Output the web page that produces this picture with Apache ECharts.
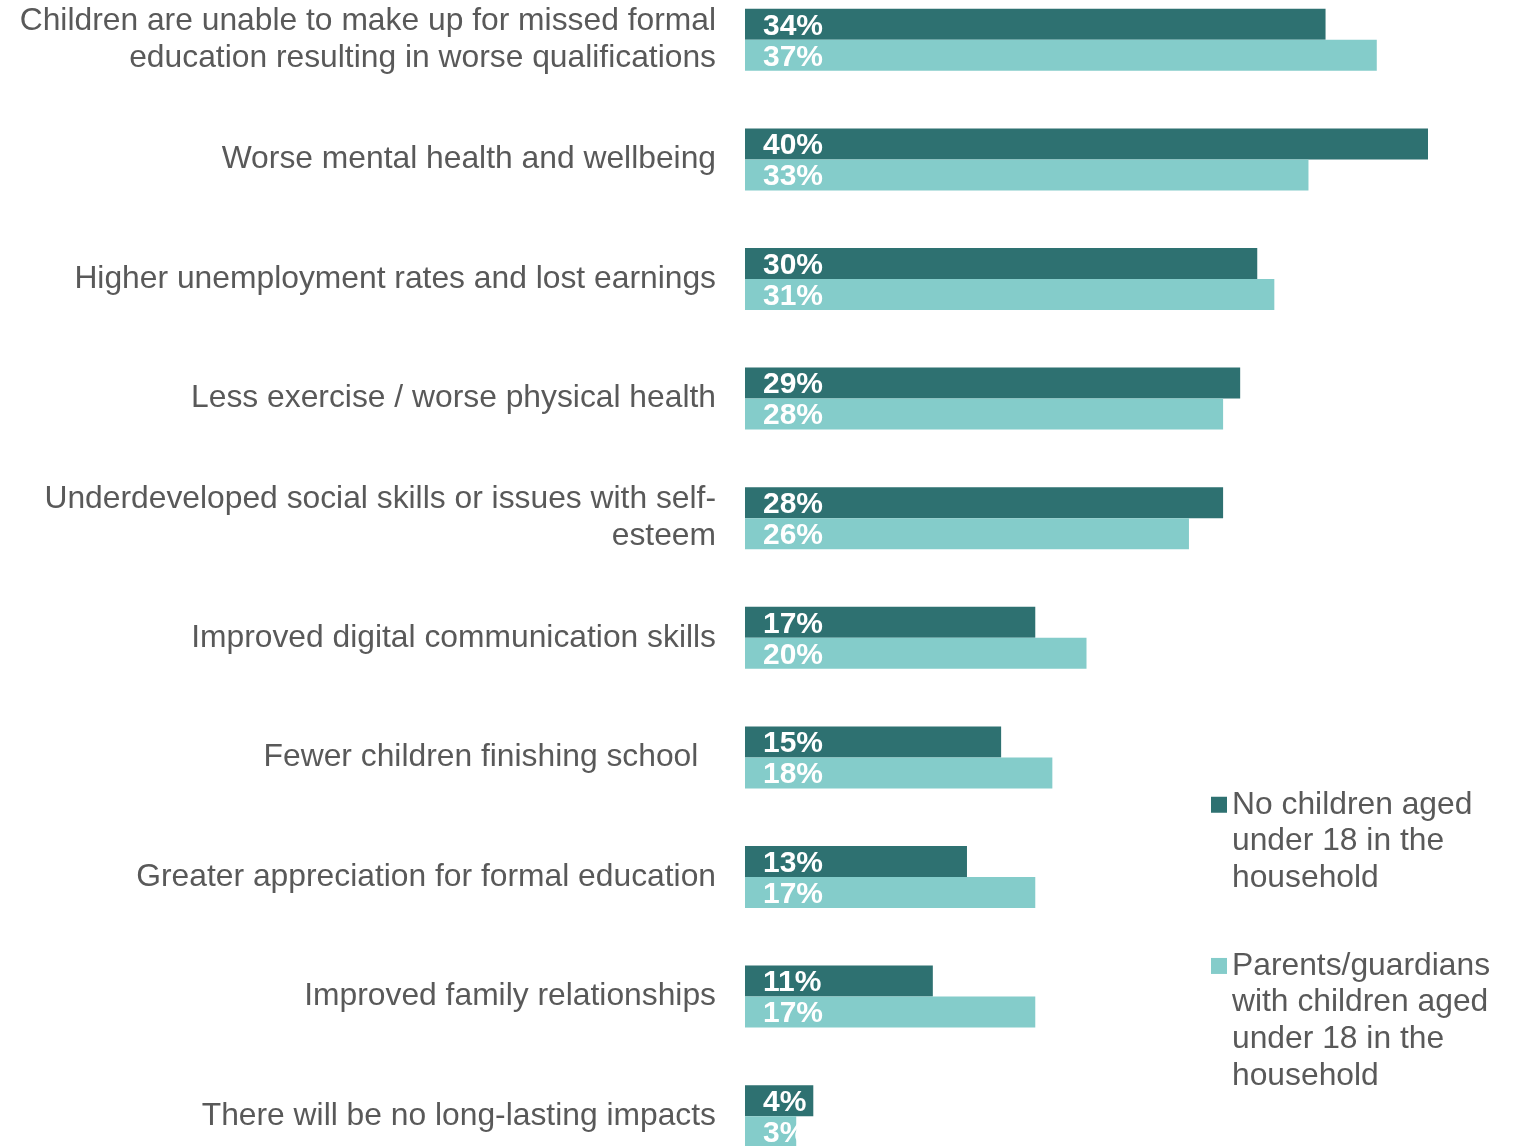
<!DOCTYPE html>
<html>
<head>
<meta charset="utf-8">
<script src="https://cdn.jsdelivr.net/npm/echarts@6/dist/echarts.min.js"></script>
<style>
html,body{margin:0;padding:0;background:#fff;}
#chart{width:1514px;height:1146px;}
</style>
</head>
<body>
<div id="chart"></div>
<script>
const categories = [
  "Children are unable to make up for missed formal\neducation resulting in worse qualifications",
  "Worse mental health and wellbeing",
  "Higher unemployment rates and lost earnings",
  "Less exercise / worse physical health",
  "Underdeveloped social skills or issues with self-\nesteem",
  "Improved digital communication skills",
  "Fewer children finishing school  ",
  "Greater appreciation for formal education",
  "Improved family relationships",
  "There will be no long-lasting impacts"
];
const seriesNames = [
  "No children aged under 18 in the household",
  "Parents/guardians with children aged under 18 in the household"
];
const legendLines = [
  ["No children aged", "under 18 in the", "household"],
  ["Parents/guardians", "with children aged", "under 18 in the", "household"]
];
const noChildren = [34, 40, 30, 29, 28, 17, 15, 13, 11, 4];
const parents = [37, 33, 31, 28, 26, 20, 18, 17, 17, 3];

const FONT = "'Liberation Sans', Arial, Helvetica, sans-serif";
const LH = 36.7;

const chart = echarts.init(document.getElementById('chart'));

function makeLegend(i, top) {
  const lines = legendLines[i];
  // blank lines before so the first text line sits level with the swatch
  const text = new Array(lines.length).join('\n') + lines.join('\n');
  return {
    show: true,
    orient: 'vertical',
    left: 1211,
    top: top,
    padding: 0,
    itemWidth: 16,
    itemHeight: 16,
    itemGap: 0,
    icon: 'rect',
    data: [seriesNames[i]],
    textStyle: {
      fontFamily: FONT,
      fontSize: 31.8,
      color: '#595959',
      lineHeight: LH
    },
    formatter: function () { return text; },
    selectedMode: false
  };
}

function barLabel() {
  return {
    show: true,
    position: 'insideLeft',
    distance: 18,
    offset: [0, 2],
    formatter: '{c}%',
    color: '#ffffff',
    fontFamily: FONT,
    fontWeight: 'bold',
    fontSize: 30
  };
}

chart.setOption({
  animation: false,
  backgroundColor: '#ffffff',
  grid: { left: 745, right: 86, top: -20, height: 1196, containLabel: false, outerBoundsMode: 'none' },
  legend: [makeLegend(0, 713), makeLegend(1, 837.5)],
  xAxis: {
    type: 'value',
    min: 0,
    max: 40,
    show: false
  },
  yAxis: {
    type: 'category',
    inverse: true,
    data: categories,
    axisLine: { show: false },
    axisTick: { show: false },
    splitLine: { show: false },
    axisLabel: {
      margin: 29,
      fontFamily: FONT,
      fontSize: 31.8,
      color: '#595959',
      lineHeight: 37,
      align: 'right',
      padding: [4, 0, 0, 0]
    }
  },
  series: [
    {
      name: seriesNames[0],
      type: 'bar',
      data: noChildren,
      barWidth: 31,
      barGap: '0%',
      itemStyle: { color: '#2E7171' },
      label: barLabel()
    },
    {
      name: seriesNames[1],
      type: 'bar',
      data: parents,
      barWidth: 31,
      barGap: '0%',
      itemStyle: { color: '#84CCCA' },
      label: barLabel()
    }
  ]
});
</script>
</body>
</html>
